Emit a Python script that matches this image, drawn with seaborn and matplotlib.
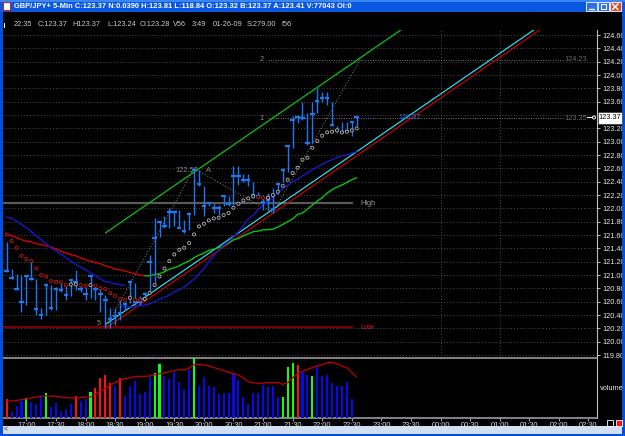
import numpy as np
import pandas as pd
import matplotlib
matplotlib.use("Agg")
import matplotlib.pyplot as plt
from matplotlib.patches import Rectangle, Circle
import seaborn as sns

sns.set_theme(style="dark")
plt.rcParams['font.family'] = ['Liberation Sans', 'DejaVu Sans']
plt.rcParams['patch.edgecolor'] = 'none'

# ---------------- data ----------------
bar_times = pd.date_range("2009-01-26 16:40", periods=72, freq="5min").strftime("%H:%M").tolist()

highs = [121.49, 121.09, 121.02, 121.00, 121.00, 121.24, 120.94, 120.50, 120.88, 120.85,
         120.82, 120.90, 120.84, 120.94, 121.07, 120.84, 120.82, 121.00, 120.84, 120.84,
         120.70, 120.50, 120.50, 120.63, 120.60, 120.93, 120.88, 120.68, 120.75, 121.30,
         121.85, 121.80, 121.88, 122.00, 121.98, 121.98, 121.83, 121.94, 122.60, 122.58,
         122.33, 122.10, 122.08, 122.05, 122.20, 122.18, 122.63, 122.63, 122.52, 122.52,
         122.40, 122.25, 122.19, 122.23, 122.30, 122.38, 122.60, 122.95, 123.38, 123.40,
         123.60, 123.43, 123.60, 123.81, 123.75, 123.75, 123.60, 123.23, 123.30, 123.30,
         123.30, 123.37]
lows = [121.05, 120.94, 120.77, 120.45, 120.55, 120.93, 120.40, 120.34, 120.40, 120.47,
        120.48, 120.75, 120.63, 120.68, 120.78, 120.74, 120.62, 120.65, 120.63, 120.44,
        120.20, 120.20, 120.25, 120.33, 120.48, 120.58, 120.55, 120.55, 120.65, 120.73,
        120.88, 121.57, 121.70, 121.70, 121.73, 121.70, 121.63, 121.68, 121.90, 122.33,
        121.88, 122.03, 121.93, 121.90, 122.03, 122.04, 122.05, 122.35, 122.40, 122.34,
        122.15, 122.15, 121.98, 121.98, 121.93, 122.22, 122.40, 122.55, 122.90, 123.28,
        123.33, 122.95, 122.98, 123.43, 123.60, 123.55, 123.23, 123.13, 123.13, 123.15,
        123.08, 123.24]
closes = [121.06, 120.96, 120.79, 120.59, 120.99, 120.94, 120.49, 120.40, 120.85, 120.50,
          120.79, 120.78, 120.70, 120.93, 120.90, 120.79, 120.72, 120.98, 120.79, 120.72,
          120.62, 120.34, 120.39, 120.43, 120.57, 120.89, 120.60, 120.60, 120.72, 121.19,
          121.55, 121.79, 121.74, 121.94, 121.94, 121.71, 121.66, 121.92, 122.57, 122.36,
          122.04, 122.08, 122.00, 122.00, 122.18, 122.06, 122.48, 122.48, 122.43, 122.43,
          122.20, 122.19, 122.10, 122.13, 121.99, 122.37, 122.58, 122.93, 123.33, 123.37,
          123.35, 122.98, 123.42, 123.61, 123.66, 123.65, 123.25, 123.18, 123.14, 123.16,
          123.29, 123.37]

sar = [121.61, 121.51, 121.41, 121.29, 121.24, 121.21, 121.10, 121.00, 120.98, 120.91,
       120.90, 120.89, 120.85, 120.86, 120.86, 120.85, 120.84, 120.85, 120.84, 120.80,
       120.79, 120.73, 120.69, 120.64, 120.63, 120.66, 120.63, 120.63, 120.64, 120.73,
       120.85, 120.98, 121.10, 121.21, 121.31, 121.38, 121.41, 121.48, 121.61, 121.73,
       121.77, 121.82, 121.85, 121.86, 121.90, 121.93, 122.01, 122.07, 122.12, 122.15,
       122.18, 122.17, 122.16, 122.16, 122.20, 122.25, 122.34, 122.43, 122.53, 122.61,
       122.73, 122.76, 122.91, 123.01, 123.09, 123.14, 123.15, 123.17, 123.14, 123.15,
       123.17, 123.20]
sar_side = list("rrrrrrrrrrrrrwwrrwrrrrrrrwrrwwwwwwwwwwwwwwwwwwwwwwwrrwwwwwwwwwwwwwwwwwww")

ma_main = [121.60, 121.59, 121.56, 121.53, 121.51, 121.50, 121.47, 121.46, 121.44, 121.42,
           121.39, 121.36, 121.33, 121.31, 121.29, 121.26, 121.23, 121.21, 121.19, 121.17,
           121.14, 121.12, 121.09, 121.08, 121.06, 121.04, 121.02, 121.00, 120.99, 120.99,
           121.01, 121.02, 121.05, 121.09, 121.11, 121.14, 121.18, 121.21, 121.26, 121.30,
           121.33, 121.37, 121.39, 121.41, 121.44, 121.48, 121.53, 121.55, 121.59, 121.62,
           121.65, 121.66, 121.68, 121.68, 121.69, 121.72, 121.76, 121.80, 121.84, 121.91,
           121.93, 121.99, 122.05, 122.11, 122.16, 122.23, 122.28, 122.32, 122.35, 122.39,
           122.43, 122.46]
ma_turn = 28  # red up to this bar, green afterwards

ma_blue_a = [121.87, 121.85, 121.81, 121.76, 121.71, 121.65, 121.59, 121.53, 121.47, 121.41,
             121.36, 121.31, 121.26, 121.21, 121.16, 121.12, 121.08, 121.03, 120.99, 120.94,
             120.90, 120.89, 120.87, 120.86, 120.84]
ma_blue_b_start = 23
ma_blue_b = [120.53, 120.53, 120.52, 120.53, 120.54, 120.55, 120.57, 120.60, 120.64, 120.67,
             120.70, 120.75, 120.78, 120.82, 120.88, 120.94, 121.02, 121.09, 121.20, 121.29,
             121.38, 121.44, 121.50, 121.57, 121.65, 121.74, 121.84, 121.90, 121.98, 122.05,
             122.11, 122.17, 122.23, 122.29, 122.35, 122.40, 122.44, 122.49, 122.53, 122.58,
             122.62, 122.66, 122.70, 122.73, 122.76, 122.79, 122.80, 122.83, 122.85]

volume = [32, 10, 20, 29, 34, 27, 24, 36, 41, 18, 25, 11, 15, 23, 37, 29, 31, 43, 50, 66,
          71, 59, 54, 66, 36, 54, 62, 40, 44, 69, 75, 90, 70, 65, 77, 60, 48, 80, 100, 54,
          68, 53, 51, 40, 42, 42, 75, 63, 35, 23, 41, 41, 55, 52, 54, 35, 35, 85, 92, 89,
          77, 71, 70, 87, 70, 71, 58, 54, 54, 60, 31]
volume_color = list("rbbbgbbbgbbbbbrbbgrrrrbrbbbbbbggbbbbbbgbbbbbbbbbbbbbbbbbgggrbbgbbbbbbbb")
volume_avg = [28, 28.5, 29, 30.5, 32, 33.5, 35, 36, 37, 36.5, 36, 35, 34, 33.5, 33, 34, 35, 35,
              39, 45, 49, 55, 59, 63.5, 65.5, 67, 69, 69.5, 69.5, 70, 72, 74, 75, 77, 79, 81,
              80, 83, 89, 89.5, 88.5, 87, 84, 82, 79, 76, 74, 72, 67, 61, 58.5, 58, 58, 59, 59,
              59, 56, 59, 67, 74, 78, 81, 84, 87, 89, 92, 93, 90, 87, 84, 76, 68]

time_labels = ["17:00", "17:30", "18:00", "18:30", "19:00", "19:30", "20:00", "20:30",
               "21:00", "21:30", "22:00", "22:30", "23:00", "23:30", "00:00", "00:30",
               "01:00", "01:30", "02:00", "02:30"]
price_ticks = [119.80, 120.00, 120.20, 120.40, 120.60, 120.80, 121.00, 121.20, 121.40,
               121.60, 121.80, 122.00, 122.20, 122.40, 122.60, 122.80, 123.00, 123.20,
               123.40, 123.60, 123.80, 124.00, 124.20, 124.40, 124.60]

channel_start = 20
channel_slope = 0.0508
channel_upper0, channel_lower0, channel_red0 = 121.63, 120.26, 120.20
zigzag_bars = [20, 38, 54, 71.7]
zigzag_prices = [120.20, 122.60, 121.93, 124.23]
fib_levels = [123.35, 124.23]
fib_names = ["1", "2"]
session_high, session_low = 122.08, 120.22
last_price = 123.37

# ---------------- figure ----------------
W, H = 625, 436
fig = plt.figure(figsize=(W / 100, H / 100), dpi=100, facecolor='black')


def fa(l, t, r, b):
    return [l / W, 1 - b / H, (r - l) / W, (b - t) / H]


ax = fig.add_axes(fa(3, 30, 597, 358))
axv = fig.add_axes(fa(3, 358, 597, 418))
for a in (ax, axv):
    a.set_facecolor('black')
    for s in a.spines.values():
        s.set_visible(False)
    a.grid(False)

xs = np.arange(len(highs))
xv = np.arange(len(volume))
XL = (-0.75, 119.74)
ax.set_xlim(*XL)
axv.set_xlim(*XL)
ax.set_ylim(119.757, 124.675)
axv.set_ylim(0, 100)

BLUE = '#1a78f0'
dot = (0, (1, 2))

# grid
for p in price_ticks:
    ax.axhline(p, color='#4c4c4c', lw=0.7, ls=dot, zorder=0)
for vb in (88, 100):
    ax.axvline(vb, color='#4c4c4c', lw=0.7, ls=dot, zorder=0)

# session high / low
ax.hlines(session_high, XL[0], 70.2, color='#5a5a5a', lw=1.6, zorder=1)
ax.hlines(session_low, XL[0], 70.2, color='#7a0000', lw=1.6, zorder=1)
ax.text(71.8, session_high, "High", color='#9a9a9a', fontsize=5.3, va='center')
ax.text(71.8, session_low, "Low", color='#e02020', fontsize=5.3, va='center')

# fib targets
ax.hlines(fib_levels, 53, 113, color='#7a7a7a', lw=0.7, ls=(0, (1, 1.5)), zorder=1)
for lv, nm in zip(fib_levels, fib_names):
    ax.text(51.7, lv, nm, color='#8a8a8a', fontsize=5.3, va='center', ha='center')
    ax.text(117.7, lv, f"{lv:.2f}", color='#6a6a6a', fontsize=5.3, va='center', ha='right')

# zigzag
ax.plot(zigzag_bars, zigzag_prices, color='#8a8a8a', lw=0.7, ls=dot, zorder=2)
ax.text(34.3, 122.57, "122.57", color='#8a8a8a', fontsize=5.3, va='center')
ax.text(40.4, 122.57, "A", color='#8a8a8a', fontsize=5.3, va='center')
ax.text(18.6, 120.27, "5", color='#8a8a8a', fontsize=5.3, va='center', ha='center')

# channel
cx = np.array([channel_start, 125])
ax.plot(cx, channel_upper0 + channel_slope * (cx - channel_start), color='#10c010', lw=0.9, zorder=2)
ax.plot(cx, channel_red0 + channel_slope * (cx - channel_start), color='#c00000', lw=0.9, zorder=2)
ax.plot(cx, channel_lower0 + channel_slope * (cx - channel_start), color='#30d8e8', lw=0.9, zorder=2)

# moving averages (seaborn)
sns.lineplot(x=xs[:ma_turn + 1], y=ma_main[:ma_turn + 1], ax=ax, color='#d00000', lw=1.0,
             estimator=None, sort=False, zorder=3)
sns.lineplot(x=xs[ma_turn:], y=ma_main[ma_turn:], ax=ax, color='#10c010', lw=1.0,
             estimator=None, sort=False, zorder=3)
sns.lineplot(x=xs[:len(ma_blue_a)], y=ma_blue_a, ax=ax, color='#1818c8', lw=1.0,
             estimator=None, sort=False, zorder=3)
sns.lineplot(x=np.arange(ma_blue_b_start, ma_blue_b_start + len(ma_blue_b)), y=ma_blue_b, ax=ax,
             color='#1818c8', lw=1.0, estimator=None, sort=False, zorder=3)

# price bars
ax.vlines(xs, lows, highs, color=BLUE, lw=1.0, zorder=4)
ax.hlines(closes, xs - 0.45, xs + 0.45, color=BLUE, lw=1.6, zorder=4)

# SAR dots
sar_cols = ['#d01818' if s == 'r' else '#b8b8b8' for s in sar_side]
ax.scatter(xs, sar, s=5, facecolors='black', edgecolors=sar_cols, linewidths=0.6, zorder=5)

ax.text(79.5, last_price, "123.37", color='#2a6cd8', fontsize=5.3, va='center')

# right price axis (label under the last-price box is hidden as in the reference)
ax.yaxis.tick_right()
ax.set_yticks(price_ticks)
ax.set_yticklabels(["" if abs(p - last_price) < 0.1 else f"{p:.2f}" for p in price_ticks])
ax.tick_params(axis='y', colors='#d8d8d8', labelcolor='#e8e8e8', labelsize=5.3, length=2.5,
               width=0.6, pad=1.2, direction='out', right=True, left=False)
ax.tick_params(axis='x', bottom=False, labelbottom=False)
ax.spines['right'].set_visible(True)
ax.spines['right'].set_color('#c0c0c0')
ax.spines['right'].set_linewidth(0.8)

# volume
vcols = {'r': '#ff1010', 'g': '#10ff10', 'b': '#0808f0'}
axv.bar(xv, volume, width=0.42, color=[vcols[c] for c in volume_color], edgecolor='none',
        linewidth=0, zorder=3)
sns.lineplot(x=xs, y=volume_avg, ax=axv, color='#c00000', lw=0.9, estimator=None, sort=False, zorder=4)
axv.set_yticks([])
axv.set_ylabel("")
tick_pos = [4 + 6 * k for k in range(len(time_labels))]
axv.set_xticks(tick_pos)
axv.set_xticklabels(time_labels)
axv.tick_params(axis='x', colors='#c0c0c0', labelcolor='#e0e0e0', labelsize=5.3, length=2,
                width=0.6, pad=1.0, direction='out', bottom=True)
for side in ('top', 'bottom'):
    axv.spines[side].set_visible(True)
    axv.spines[side].set_color('#a8a8a8')
    axv.spines[side].set_linewidth(1.1)
axv.spines['right'].set_visible(True)
axv.spines['right'].set_color('#c0c0c0')
axv.spines['right'].set_linewidth(0.8)
ax.set_ylabel("")
ax.set_xlabel("")
axv.set_xlabel("")

# ---------------- window chrome overlay ----------------
ov = fig.add_axes([0, 0, 1, 1], zorder=10)
ov.set_xlim(0, W)
ov.set_ylim(H, 0)
ov.axis('off')
ov.patch.set_alpha(0)

ov.add_patch(Rectangle((0, 0), W, 12.5, color='#0a58e0', lw=0))
ov.add_patch(Rectangle((0, 0), W, 2.5, color='#3a86f6', lw=0))
ov.add_patch(Rectangle((3, 2.5), 7, 7.5, facecolor='white', edgecolor='#c02020', lw=0.8))
ov.text(14, 6.8, "GBP/JPY+ 5-Min C:123.37 N:0.0390 H:123.81 L:118.84 O:123.32 B:123.37 A:123.41 V:77043 OI:0",
        color='white', fontsize=5.4, fontweight='bold', va='center')
for bx, fc in ((586, '#2a70f0'), (598, '#2a70f0'), (610, '#e04a20')):
    ov.add_patch(Rectangle((bx, 1.8), 10.5, 9, facecolor=fc, edgecolor='white', lw=0.6))
ov.plot([589, 594], [9, 9], color='white', lw=1)
ov.add_patch(Rectangle((600.5, 4), 5.5, 5, facecolor='none', edgecolor='white', lw=0.8))
ov.plot([612.5, 618], [4, 9.5], color='white', lw=1.1)
ov.plot([612.5, 618], [9.5, 4], color='white', lw=1.1)

ov.add_patch(Rectangle((0, 12.5), 2.5, H - 12.5, color='#0050e0', lw=0))
ov.add_patch(Rectangle((622, 12.5), 3, H - 12.5, color='#0050e0', lw=0))
ov.plot([3.5, 3.5], [23, 27], color='white', lw=0.8)

info = [(14, "22:35"), (38, "C:123.37"), (72, "H123.37"), (107, "L:123.24"), (139.5, "O:123.28"),
        (173, "V56"), (192, "3:49"), (213, "01-26-09"), (247, "S:279.00"), (281, "I56")]
for x0, t in info:
    ov.text(x0, 24.5, t, color='#c8c8c8', fontsize=5.3, va='center')

ov.add_patch(Rectangle((598, 111.5), 24, 12, facecolor='white', edgecolor='#303030', lw=0.5))
ov.text(610, 117.6, "123.37", color='black', fontsize=5.3, va='center', ha='center')
ov.plot([587, 592], [117.5, 117.5], color='white', lw=0.8)
ov.add_patch(Circle((594, 117.5), 1.5, facecolor='none', edgecolor='white', lw=0.7))

ov.text(600, 388.5, "volume", color='#e8e8e8', fontsize=5.3, va='center')

ov.add_patch(Rectangle((2.5, 425.5), 619.5, 8, color='#d2def2', lw=0))
ov.add_patch(Rectangle((0, 433.5), W, 2.5, color='#0050e0', lw=0))
ov.text(4, 429.5, "<", color='#303030', fontsize=5, va='center')
ov.add_patch(Rectangle((607, 419.5), 6, 6, facecolor='none', edgecolor='white', lw=0.6))
ov.add_patch(Rectangle((615.5, 419.5), 6, 6, facecolor='#ff1010', edgecolor='white', lw=0.6))

fig.savefig("out.png", dpi=100, facecolor='black')
